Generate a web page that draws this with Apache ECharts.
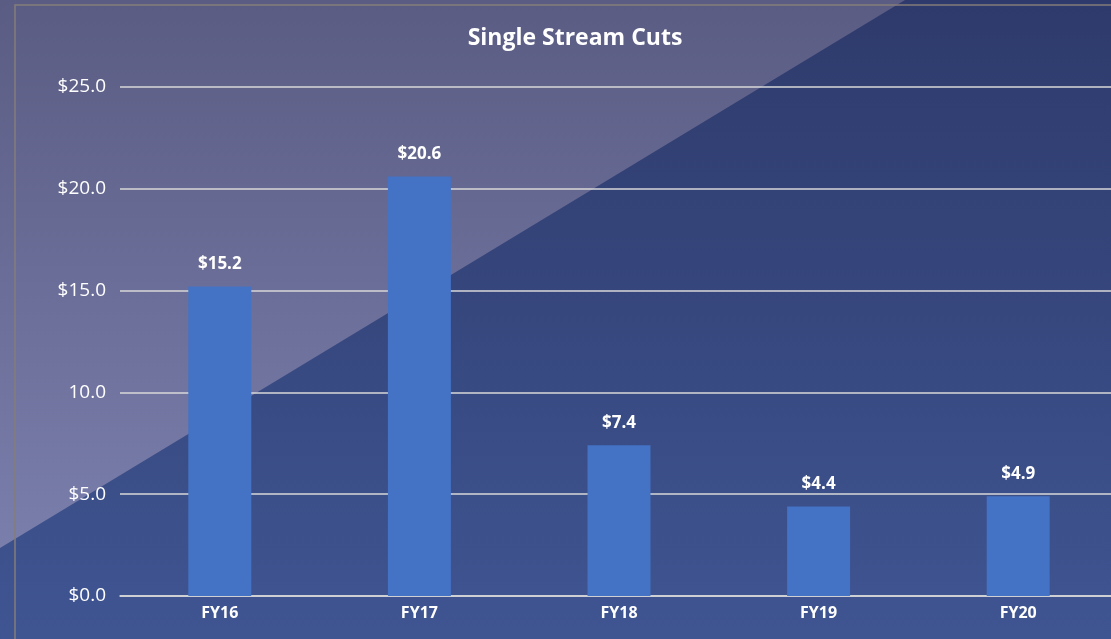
<!DOCTYPE html>
<html>
<head>
<meta charset="utf-8">
<style>
  html, body { margin: 0; padding: 0; background: #35457c; overflow: hidden; }
  /* a bit wider than the window so the plot can run off the right edge */
  #chart { width: 1130px; height: 639px; }
</style>
<script src="https://cdn.jsdelivr.net/npm/echarts@6/dist/echarts.min.js"></script>
</head>
<body>
<div id="chart"></div>
<script>
// data
const years = ['FY16', 'FY17', 'FY18', 'FY19', 'FY20']
const cuts = [15.2, 20.6, 7.4, 4.4, 4.9]
const yTicks = ['$0.0', '$5.0', '10.0', '$15.0', '$20.0', '$25.0']

const chart = echarts.init(document.getElementById('chart'))
const FONT = '"Open Sans", "Noto Sans", sans-serif'

chart.setOption({
  animation: false,
  graphic: [
    {
      // dark blue backdrop
      type: 'rect',
      z: -10,
      silent: true,
      shape: { x: 0, y: 0, width: 1130, height: 639 },
      style: {
        fill: new echarts.graphic.LinearGradient(0, 0, 0, 1, [
          { offset: 0, color: '#2e3a6b' },
          { offset: 1, color: '#3f5592' }
        ])
      }
    },
    {
      // lighter diagonal wedge top-left
      type: 'polygon',
      z: -9,
      silent: true,
      shape: { points: [[0, 0], [905, 0], [0, 548]] },
      style: {
        fill: new echarts.graphic.LinearGradient(0, 0, 0, 1, [
          { offset: 0, color: '#5a5c83' },
          { offset: 1, color: '#7a7eab' }
        ])
      }
    },
    {
      // chart frame edge
      type: 'polyline',
      z: -8,
      silent: true,
      shape: { points: [[15, 639], [15, 5], [1130, 5]] },
      style: { stroke: '#857c7a', lineWidth: 1.5, fill: null }
    }
  ],
  title: {
    text: 'Single Stream Cuts',
    left: 570,
    top: 22,
    textAlign: 'center',
    textStyle: {
      color: '#ffffff',
      fontFamily: FONT,
      fontWeight: 'bold',
      fontSize: 23
    }
  },
  grid: {
    left: 120,
    top: 87,
    width: 998,
    height: 509,
    containLabel: false
  },
  xAxis: {
    type: 'category',
    data: years,
    axisLine: { show: true, lineStyle: { color: '#d9d9d9', width: 1.5 } },
    axisTick: { show: false },
    axisLabel: {
      color: '#ffffff',
      fontFamily: FONT,
      fontWeight: 'bold',
      fontSize: 16,
      margin: 9
    }
  },
  yAxis: {
    type: 'value',
    min: 0,
    max: 25,
    interval: 5,
    axisLine: { show: false },
    axisTick: { show: false },
    axisLabel: {
      color: '#ffffff',
      fontFamily: FONT,
      fontSize: 19,
      margin: 14,
      formatter: (v) => yTicks[Math.round(v / 5)]
    },
    splitLine: { lineStyle: { color: '#d9d9d9', width: 1.5 } }
  },
  series: [
    {
      type: 'bar',
      data: cuts,
      barWidth: 63,
      itemStyle: { color: '#4472c4' },
      label: {
        show: true,
        position: 'top',
        distance: 14,
        color: '#ffffff',
        fontFamily: FONT,
        fontWeight: 'bold',
        fontSize: 17,
        formatter: (p) => '$' + p.value.toFixed(1)
      }
    }
  ]
})
</script>
</body>
</html>
